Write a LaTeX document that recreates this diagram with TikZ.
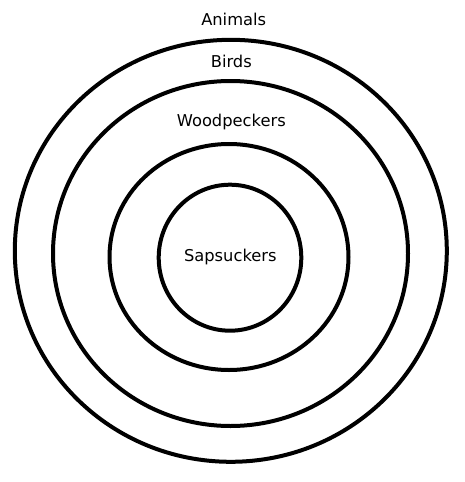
\documentclass[tikz,border=0pt]{standalone}
\usepackage{fontspec}
\setmainfont{DejaVu Sans}
\usetikzlibrary{shapes.geometric}
\begin{document}
\begin{tikzpicture}[x=1pt,y=-1pt,
  ring/.style={draw=black, line width=4pt, ellipse, inner sep=0pt, minimum width=#1},
  lbl/.style={anchor=base, inner sep=0pt, font=\fontsize{16.3pt}{19pt}\selectfont}]
\useasboundingbox (0,0) rectangle (465,482);
\node[ring=432pt, minimum height=422pt] (animals) at (230.8,250.8) {};
\node[ring=355pt, minimum height=345pt] (birds) at (230.5,253.5) {};
\node[ring=239pt, minimum height=226pt] (woodpeckers) at (229,257) {};
\node[ring=142.6pt, minimum height=146pt] (sapsuckers) at (230,257.7) {};
\node[lbl] (tanimals) at (233.7,25) {Animals};
\node[lbl] (tbirds) at (231.3,67.3) {Birds};
\node[lbl] (twood) at (231.3,126) {Woodpeckers};
\node[lbl] (tsap) at (230.3,261.7) {Sapsuckers};
\end{tikzpicture}
\end{document}
